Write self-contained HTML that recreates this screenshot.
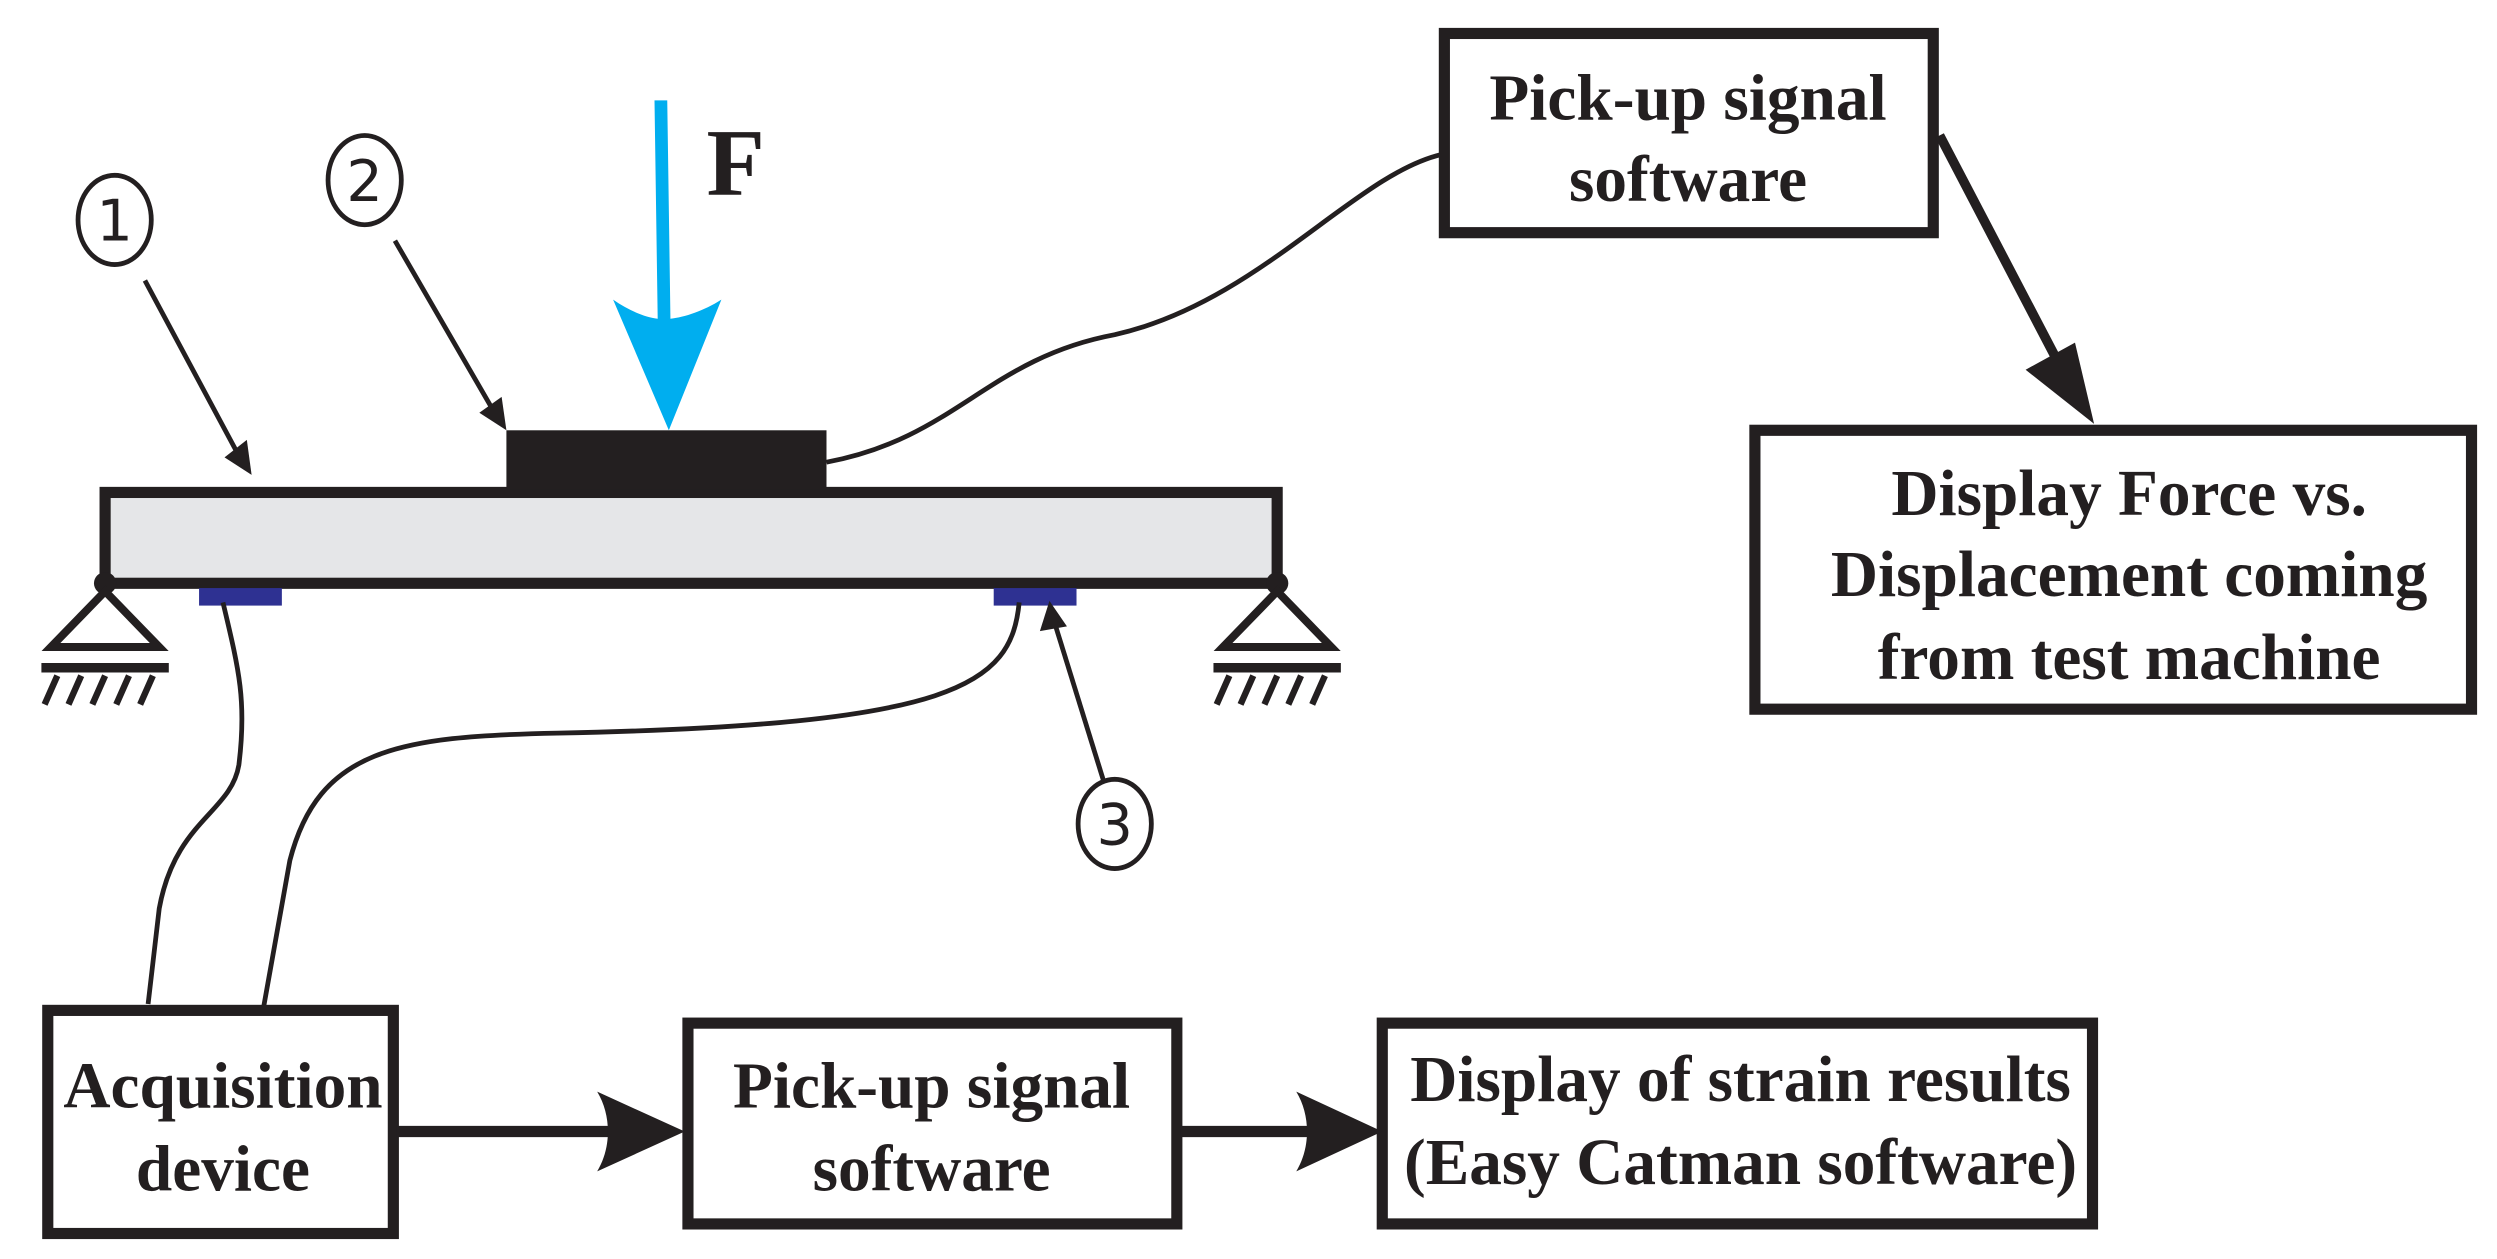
<!DOCTYPE html>
<html><head><style>html,body{margin:0;padding:0;background:#fff}svg{display:block}</style></head>
<body>
<svg width="2497" height="1259" viewBox="0 0 1568 790" preserveAspectRatio="none" xmlns="http://www.w3.org/2000/svg">
<rect width="1568" height="790" fill="#fff"/>
<g font-family="'Liberation Serif', serif" font-weight="bold" fill="#231f20" text-anchor="middle">
<!-- beam -->
<rect x="66" y="309" width="736" height="57" fill="#e5e6e8" stroke="#231f20" stroke-width="7"/>
<rect x="318" y="270" width="201" height="37" fill="#231f20"/>
<!-- gauges -->
<rect x="125" y="369" width="52" height="11" fill="#2e3192"/>
<rect x="624" y="369" width="52" height="11" fill="#2e3192"/>
<!-- supports -->
<g stroke="#231f20" fill="none">
<circle cx="66" cy="366" r="7" fill="#231f20" stroke="none"/>
<circle cx="802" cy="366" r="7" fill="#231f20" stroke="none"/>
<path d="M66,371 L32,406 L100,406 Z" stroke-width="5" fill="#fff"/>
<path d="M802,371 L768,406 L836,406 Z" stroke-width="5" fill="#fff"/>
<line x1="26" y1="419" x2="106" y2="419" stroke-width="6"/>
<line x1="762" y1="419" x2="842" y2="419" stroke-width="6"/>
<path d="M36,424 L28,442 M51,424 L43,442 M66,424 L58,442 M81,424 L73,442 M96,424 L88,442" stroke-width="4"/>
<path d="M772,424 L764,442 M787,424 L779,442 M802,424 L794,442 M817,424 L809,442 M832,424 L824,442" stroke-width="4"/>
</g>
<!-- blue force -->
<path d="M411,63 L419,63 L421,200 C430,199 442,195 453,188 L420,270 L385,188 C395,195 405,199 413,200 Z" fill="#00aeef"/>
<text x="462" y="122" font-size="60">F</text>
<!-- circled numbers -->
<g stroke="#231f20" stroke-width="3" fill="none">
<ellipse cx="72" cy="138" rx="23" ry="28"/>
<ellipse cx="229" cy="113" rx="23" ry="28"/>
<ellipse cx="700" cy="517" rx="23" ry="28"/>
</g>
<g font-family="'DejaVu Sans', sans-serif" font-weight="normal" font-size="36">
<text x="72" y="151">1</text>
<text x="229" y="126">2</text>
<text x="700" y="530">3</text>
</g>
<!-- label arrows -->
<g stroke="#231f20" stroke-width="3" fill="none">
<line x1="91" y1="176" x2="150" y2="286"/>
<line x1="248" y1="151" x2="310" y2="258"/>
<line x1="693" y1="490" x2="662" y2="390"/>
</g>
<path d="M158,298 L141,287 L155,276 Z" fill="#231f20"/>
<path d="M318,270 L301,259 L315,249 Z" fill="#231f20"/>
<path d="M659,377 L653,396 L670,393 Z" fill="#231f20"/>
<!-- wires -->
<g stroke="#231f20" stroke-width="3" fill="none">
<path d="M519,290 C600,275 620,225 700,210 C790,190 850,110 905,97"/>
<path d="M140,378 C150,420 155,440 150,480 C145,510 110,515 100,570 L93,630"/>
<path d="M640,378 C635,430 600,455 350,460 C250,462 200,470 182,540 L165,635"/>
</g>
<!-- boxes -->
<g stroke="#231f20" stroke-width="7" fill="#fff">
<rect x="907" y="21" width="307" height="125"/>
<rect x="1102" y="270" width="450" height="175"/>
<rect x="30" y="634" width="217" height="140"/>
<rect x="432" y="642" width="307" height="126"/>
<rect x="868" y="642" width="446" height="126"/>
</g>
<g font-size="41">
<text x="1060" y="75">Pick-up signal</text>
<text x="1060" y="126">software</text>
<text x="1337" y="323">Display Force vs.</text>
<text x="1337" y="374">Displacement coming</text>
<text x="1337" y="426">from test machine</text>
<text x="140" y="695">Acquisition</text>
<text x="140" y="747">device</text>
<text x="585" y="695">Pick-up signal</text>
<text x="585" y="747">software</text>
<text x="1093" y="691">Display of strain results</text>
<text x="1093" y="743">(Easy Catman software)</text>
</g>
<!-- thick arrows -->
<line x1="1218" y1="85" x2="1298" y2="238" stroke="#231f20" stroke-width="6"/>
<path d="M1315,266 L1272,232 L1303,215 Z" fill="#231f20"/>
<line x1="249" y1="710" x2="385" y2="710" stroke="#231f20" stroke-width="7"/>
<path d="M430,710 L375,685 C384,700 384,720 375,735 Z" fill="#231f20"/>
<line x1="741" y1="710" x2="825" y2="710" stroke="#231f20" stroke-width="7"/>
<path d="M868,710 L814,685 C823,700 823,720 814,735 Z" fill="#231f20"/>
</g>
</svg>
</body></html>
